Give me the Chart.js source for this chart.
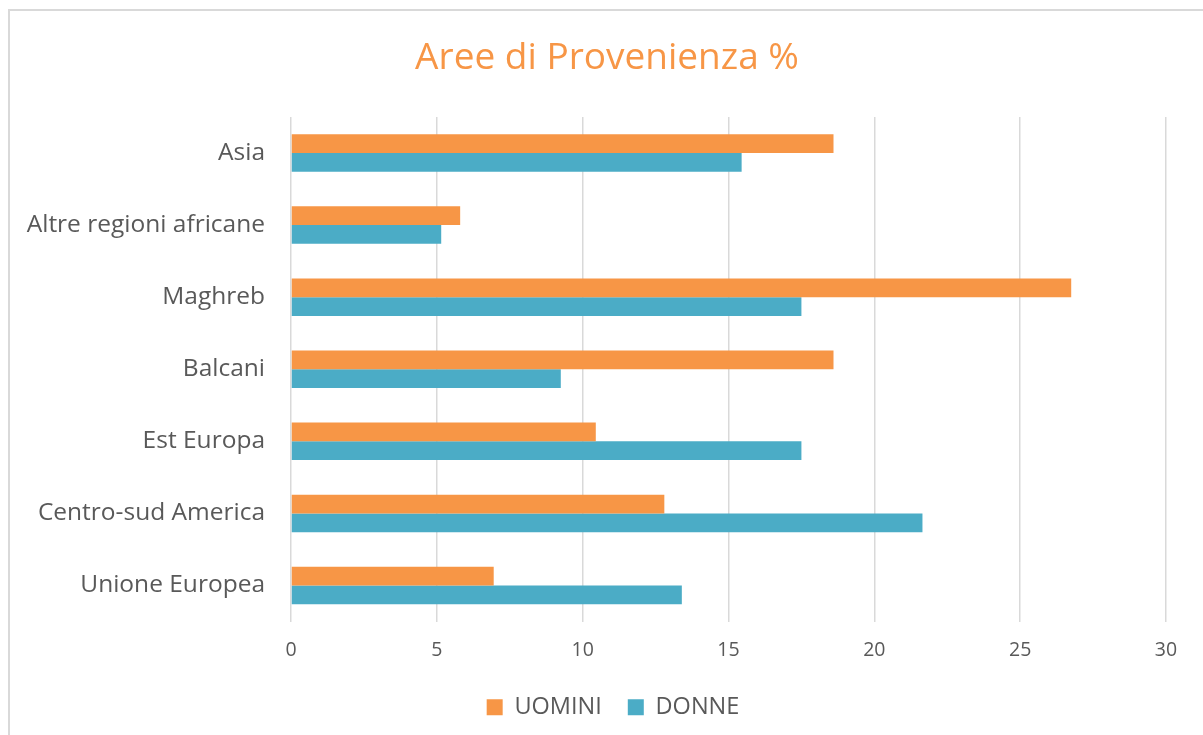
<!DOCTYPE html>
<html><head><meta charset="utf-8">
<script src="https://cdn.jsdelivr.net/npm/chart.js@4.4.1/dist/chart.umd.min.js"></script>
<style>
html,body{margin:0;padding:0;background:#fff;overflow:hidden;}
#frame{position:absolute;left:8px;top:9px;width:1400px;height:900px;border:2px solid #d9d9d9;box-sizing:border-box;}
#wrap{position:absolute;left:0;top:0;width:1203px;height:735px;}
</style></head>
<body>
<div id="frame"></div>
<div id="wrap"><canvas id="c" width="1203" height="735"></canvas></div>
<script>
const categories = ["Asia","Altre regioni africane","Maghreb","Balcani","Est Europa","Centro-sud America","Unione Europea"];
const uomini = [18.6, 5.8, 26.75, 18.6, 10.45, 12.8, 6.95];
const donne = [15.45, 5.15, 17.5, 9.25, 17.5, 21.65, 13.4];
const seriesNames = ["UOMINI","DONNE"];
const titleText = "Aree di Provenienza %";

const FONT = "'Open Sans', sans-serif";
const shiftBlocks = {
  id: 'shiftBlocks',
  afterLayout(chart) {
    if (chart.titleBlock) chart.titleBlock.left += 48;
    if (chart.legend) chart.legend.left += 60;
  }
};
new Chart(document.getElementById('c'), {
  type: 'bar',
  data: {
    labels: categories,
    datasets: [
      {label: seriesNames[0], data: uomini, backgroundColor: '#F79646', borderWidth: 0},
      {label: seriesNames[1], data: donne, backgroundColor: '#4BACC6', borderWidth: 0}
    ]
  },
  plugins: [shiftBlocks],
  options: {
    indexAxis: 'y',
    responsive: false,
    animation: false,
    categoryPercentage: 0.52,
    barPercentage: 1.0,
    layout: {padding: {left: 0, right: 37, top: 0, bottom: 6}},
    plugins: {
      title: {display: true, text: titleText, color: '#F79646',
        font: {family: FONT, size: 37, weight: 'normal'}, padding: {top: 36, bottom: 36.6}},
      legend: {position: 'bottom', labels: {color: '#595959', boxWidth: 16, boxHeight: 16,
        font: {family: FONT, size: 23.5}, padding: 26}},
      tooltip: {enabled: false}
    },
    scales: {
      x: {min: 0, max: 30, ticks: {stepSize: 5, color: '#595959', font: {family: FONT, size: 19.5}, padding: 17},
        grid: {color: '#d9d9d9', lineWidth: 1.5, drawTicks: false}, border: {display: false},
        afterFit: s => { s.height = 48; }},
      y: {ticks: {color: '#595959', font: {family: FONT, size: 24.5}, padding: 26},
        grid: {display: false, drawTicks: false}, border: {display: false},
        afterFit: s => { s.width = 291; }}
    }
  }
});
</script>
</body></html>
